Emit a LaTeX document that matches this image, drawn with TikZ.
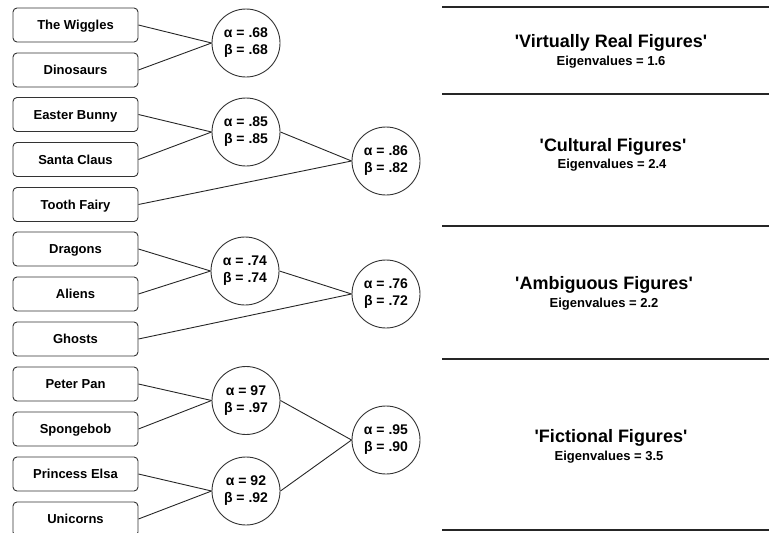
\documentclass[tikz,border=0pt]{standalone}
\usepackage{fontspec}
\setmainfont{Liberation Sans}[Ligatures=TeXOff]

\begin{document}
\begin{tikzpicture}[x=1pt,y=-1pt,
  itembox/.style={draw=black!80,line width=0.9pt,rounded corners=4pt,
    minimum width=125pt,minimum height=34pt,inner sep=0pt,
    text height=9.4pt,text depth=0pt,
    font=\fontsize{13}{15}\selectfont\bfseries},
  stat/.style={draw=black!80,line width=0.9pt,circle,minimum size=68pt,
    inner sep=0pt,align=center,font=\fontsize{14}{17}\selectfont\bfseries},
  link/.style={line width=0.9pt,black!85},
  sep/.style={line width=2pt,black!85},
  fname/.style={font=\fontsize{18}{20}\selectfont\bfseries},
  eig/.style={font=\fontsize{13}{15}\selectfont\bfseries}]
  \useasboundingbox (0,0) rectangle (769,533);
  % items
  \node[itembox] (W) at (75.5,25) {The Wiggles};
  \node[itembox] (D) at (75.5,70) {Dinosaurs};
  \node[itembox] (E) at (75.5,114.5) {Easter Bunny};
  \node[itembox] (S) at (75.5,159.5) {Santa Claus};
  \node[itembox] (T) at (75.5,204.5) {Tooth Fairy};
  \node[itembox] (R) at (75.5,249) {Dragons};
  \node[itembox] (A) at (75.5,294) {Aliens};
  \node[itembox] (G) at (75.5,339) {Ghosts};
  \node[itembox] (P) at (75.5,384) {Peter Pan};
  \node[itembox] (B) at (75.5,429) {Spongebob};
  \node[itembox] (L) at (75.5,474) {Princess Elsa};
  \node[itembox] (U) at (75.5,519) {Unicorns};
  % reliabilities
  \node[stat] (C1) at (246,43) {α = .68\\β = .68};
  \node[stat] (C2) at (246,132) {α = .85\\β = .85};
  \node[stat] (C3) at (386,161) {α = .86\\β = .82};
  \node[stat] (C4) at (245,271) {α = .74\\β = .74};
  \node[stat] (C5) at (386,294) {α = .76\\β = .72};
  \node[stat] (C6) at (246,400.5) {α = 97\\β = .97};
  \node[stat] (C7) at (246,491) {α = 92\\β = .92};
  \node[stat] (C8) at (386,440) {α = .95\\β = .90};
  \draw[link] (W.east)--(C1.west);
  \draw[link] (D.east)--(C1.west);
  \draw[link] (E.east)--(C2.west);
  \draw[link] (S.east)--(C2.west);
  \draw[link] (C2.east)--(C3.west);
  \draw[link] (T.east)--(C3.west);
  \draw[link] (R.east)--(C4.west);
  \draw[link] (A.east)--(C4.west);
  \draw[link] (C4.east)--(C5.west);
  \draw[link] (G.east)--(C5.west);
  \draw[link] (P.east)--(C6.west);
  \draw[link] (B.east)--(C6.west);
  \draw[link] (L.east)--(C7.west);
  \draw[link] (U.east)--(C7.west);
  \draw[link] (C6.east)--(C8.west);
  \draw[link] (C7.east)--(C8.west);
  % factors
  \coordinate (K0) at (442,7);
  \coordinate (K1) at (442,94);
  \coordinate (K2) at (442,226);
  \coordinate (K3) at (442,359);
  \coordinate (K4) at (442,530);
  \draw[sep] (K0)--++(327,0);
  \draw[sep] (K1)--++(327,0);
  \draw[sep] (K2)--++(327,0);
  \draw[sep] (K3)--++(327,0);
  \draw[sep] (K4)--++(327,0);
  \node[fname] (F1) at (611,43) {'Virtually Real Figures'};
  \node[eig] (V1) at (611,62) {Eigenvalues = 1.6};
  \node[fname] (F2) at (613,147) {'Cultural Figures'};
  \node[eig] (V2) at (612,165) {Eigenvalues = 2.4};
  \node[fname] (F3) at (604,285) {'Ambiguous Figures'};
  \node[eig] (V3) at (604,304) {Eigenvalues = 2.2};
  \node[fname] (F4) at (611,438) {'Fictional Figures'};
  \node[eig] (V4) at (609,457) {Eigenvalues = 3.5};
\end{tikzpicture}
\end{document}
